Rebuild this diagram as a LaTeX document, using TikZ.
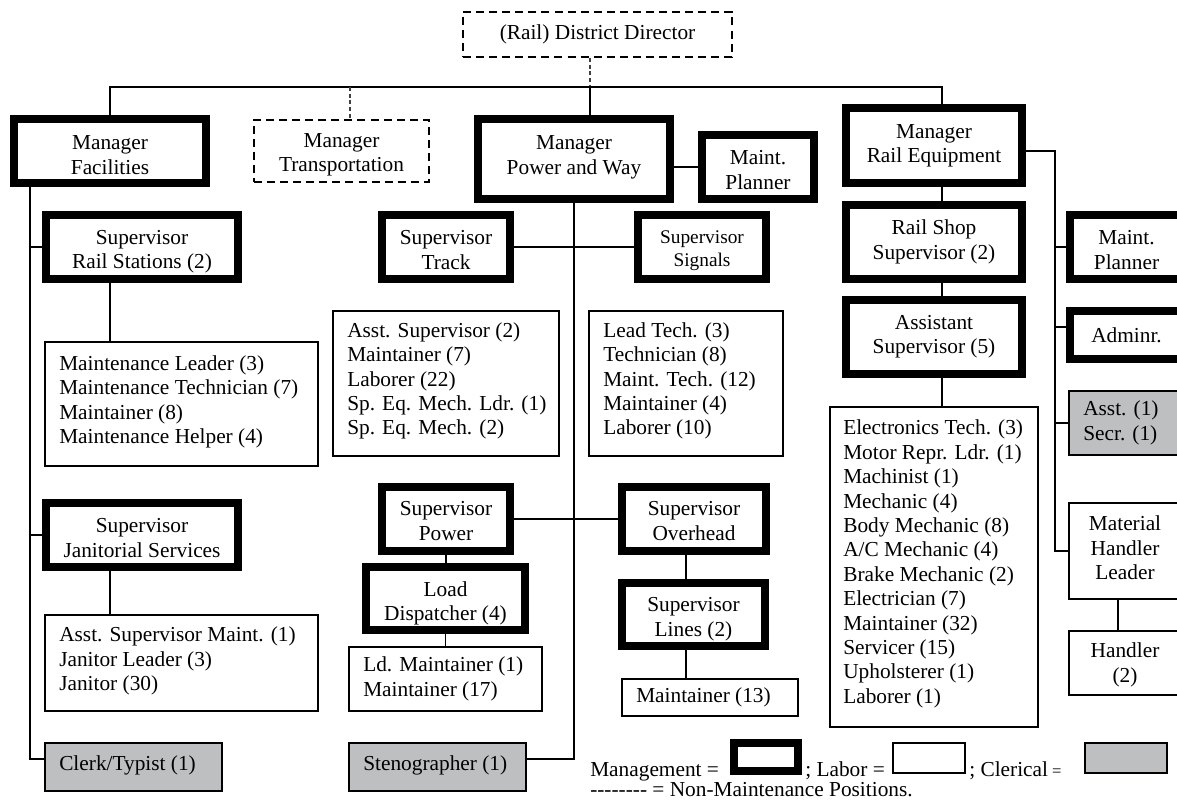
\documentclass[tikz,border=0pt]{standalone}
\usepackage{fontspec}
\setmainfont{Liberation Serif}
\definecolor{clerkgray}{RGB}{190,191,193}
\newcommand\fsn{\fontsize{16}{18.3}\selectfont}
\newcommand\fss{\fontsize{14.5}{17}\selectfont}
\begin{document}
\begin{tikzpicture}[x=0.75pt,y=-0.75pt,
  rect/.style n args={4}{minimum width={(#3-#1)*0.75pt}, minimum height={(#4-#2)*0.75pt},
      at={({(#1+#3)/2},{(#2+#4)/2})}},
  mgmt/.style={draw, line width=6pt, fill=white, inner sep=0pt, align=center, font=\fsn},
  labor/.style={draw, line width=1.2pt, fill=white, inner sep=0pt, align=center, font=\fsn},
  cler/.style={draw, line width=1.2pt, fill=clerkgray, inner sep=0pt, align=center, font=\fsn},
  nonm/.style={draw, line width=1.4pt, dash pattern=on 6pt off 3.8pt, fill=white, inner sep=0pt, align=center, font=\fsn},
  lbl/.style={inner sep=0pt, align=center, font=\fsn},
  txt/.style={inner sep=0pt, align=left, anchor=west, font=\fsn},
  legtxt/.style={inner sep=0pt, anchor=base west, font=\fsn},
  con/.style={line width=1.2pt},
  dcon/.style={line width=0.9pt, draw=black!75, dash pattern=on 3pt off 2pt},
]
\useasboundingbox (0,0) rectangle (1177,802);
\clip (0,0) rectangle (1177,802);

% ---- top level
\node[nonm, rect={463}{12}{732}{57}] (dd) {(Rail) District Director};
\node[mgmt, rect={14}{119}{206}{183}] (mf) {};
\node[lbl] (mfT) at ([yshift=-3pt]mf.center) {Manager\\Facilities};
\node[nonm, rect={254}{120}{429}{182}] (mt) {};
\node[lbl] (mtT) at ([yshift=-3pt]mt.center) {Manager\\Transportation};
\node[mgmt, rect={478}{119}{670}{199}] (mpw) {};
\node[lbl] (mpwT) at ([yshift=1.2pt]mpw.center) {Manager\\Power and Way};
\node[mgmt, rect={702}{135}{814}{199}] (mp1) {};
\node[lbl] (mp1T) at ([yshift=-2.25pt]mp1.center) {Maint.\\Planner};
\node[mgmt, rect={846}{108}{1022}{183}] (mre) {};
\node[lbl] (mreT) at (mre.center) {Manager\\Rail Equipment};

% ---- facilities branch
\node[mgmt, rect={46}{215}{238}{279}] (srs) {};
\node[lbl] (srsT) at ([yshift=-3.6pt]srs.center) {Supervisor\\Rail Stations (2)};
\node[labor, rect={45}{342}{318}{466}] (l1) {};
\node[txt] (l1t) at (59,402) {Maintenance Leader (3)\\Maintenance Technician (7)\\Maintainer (8)\\Maintenance Helper (4)};
\node[mgmt, rect={46}{503}{238}{567}] (sjs) {};
\node[lbl] (sjsT) at ([yshift=-2.25pt]sjs.center) {Supervisor\\Janitorial Services};
\node[labor, rect={45}{615}{318}{711}] (l4) {};
\node[txt] (l4t) at (59,661) {Asst. Supervisor Maint. (1)\\Janitor Leader (3)\\Janitor (30)};
\node[cler, rect={45}{743}{222}{791}] (c1) {};
\node[txt] (c1t) at (59,765) {Clerk/Typist (1)};

% ---- power and way branch
\node[mgmt, rect={382}{215}{510}{279}] (st) {};
\node[lbl] (stT) at ([yshift=-2.25pt]st.center) {Supervisor\\Track};
\node[mgmt, rect={638}{215}{766}{279}] (ss) {};
\node[lbl, font=\fss] (ssT) at ([yshift=-3pt]ss.center) {Supervisor\\Signals};
\node[labor, rect={333}{311}{559}{456}] (l2) {};
\node[txt] (l2t) at (347,381) {Asst. Supervisor (2)\\Maintainer (7)\\Laborer (22)\\Sp. Eq. Mech. Ldr. (1)\\Sp. Eq. Mech. (2)};
\node[labor, rect={589}{311}{783}{456}] (l3) {};
\node[txt] (l3t) at (603,381) {Lead Tech. (3)\\Technician (8)\\Maint. Tech. (12)\\Maintainer (4)\\Laborer (10)};
\node[mgmt, rect={382}{487}{510}{551}] (sp) {};
\node[lbl] (spT) at ([yshift=-1.5pt]sp.center) {Supervisor\\Power};
\node[mgmt, rect={622}{487}{766}{551}] (so) {};
\node[lbl] (soT) at ([yshift=-1.5pt]so.center) {Supervisor\\Overhead};
\node[mgmt, rect={366}{567}{525}{630}] (ld) {};
\node[lbl] (ldT) at ([yshift=-3.6pt]ld.center) {Load\\Dispatcher (4)};
\node[labor, rect={349}{647}{542}{711}] (l5) {};
\node[txt] (l5t) at (363,679) {Ld. Maintainer (1)\\Maintainer (17)};
\node[mgmt, rect={622}{583}{765}{646}] (sl) {};
\node[lbl] (slT) at ([yshift=-3.6pt]sl.center) {Supervisor\\Lines (2)};
\node[labor, rect={622}{679}{798}{716}] (l6) {};
\node[txt] (l6t) at (636,697) {Maintainer (13)};
\node[cler, rect={349}{743}{526}{791}] (c2) {};
\node[txt] (c2t) at (363,765) {Stenographer (1)};

% ---- rail equipment branch
\node[mgmt, rect={846}{205}{1022}{279}] (rss) {};
\node[lbl] (rssT) at (rss.center) {Rail Shop\\Supervisor (2)};
\node[mgmt, rect={846}{300}{1022}{374}] (asup) {};
\node[lbl] (asupT) at (asup.center) {Assistant\\Supervisor (5)};
\node[labor, rect={830}{407}{1038}{727}] (l7) {};
\node[txt] (l7t) at (843,564) {Electronics Tech. (3)\\Motor Repr. Ldr. (1)\\Machinist (1)\\Mechanic (4)\\Body Mechanic (8)\\A/C Mechanic (4)\\Brake Mechanic (2)\\Electrician (7)\\Maintainer (32)\\Servicer (15)\\Upholsterer (1)\\Laborer (1)};
\node[mgmt, rect={1070}{215}{1183}{279}] (mp2) {};
\node[lbl] (mp2T) at ([yshift=-2.25pt]mp2.center) {Maint.\\Planner};
\node[mgmt, rect={1070}{311}{1183}{359}] (adm) {Adminr.};
\node[cler, rect={1069}{391}{1183}{455}] (c3) {};
\node[txt] (c3t) at (1083,423) {Asst. (1)\\Secr. (1)};
\node[labor, rect={1069}{503}{1181}{599}] (l8) {};
\node[lbl] (l8T) at ([yshift=2.4pt]l8.center) {Material\\Handler\\Leader};
\node[labor, rect={1069}{631}{1181}{695}] (l9) {};
\node[lbl] (l9T) at ([yshift=-1.5pt]l9.center) {Handler\\(2)};

% ---- legend
\node[legtxt] (lg1) at (590,776) {Management =};
\node[mgmt, rect={734}{743}{798}{771}] (lgm) {};
\node[legtxt] (lg2) at (805,776) {; Labor =};
\node[legtxt] (lg3) at (969,776) {; Clerical\kern3pt{\fontsize{12.5}{13}\selectfont =}};
\node[labor, rect={893}{743}{965}{773}] (lgl) {};
\node[cler, rect={1085}{743}{1167}{773}] (lgc) {};
\node[legtxt] (lg4) at (590,796) {-\kern0pt-\kern0pt-\kern0pt-\kern0pt-\kern0pt-\kern0pt-\kern0pt- = Non-Maintenance Positions.};

% ---- connectors
\coordinate (busc) at (590,87);
\coordinate (xMF) at (110,87);
\coordinate (xMT) at (350,87);
\coordinate (xRE) at (942,87);
\coordinate (xL) at (30,0);
\coordinate (yB) at (0,759);
\coordinate (xO) at (686,0);
\coordinate (yRE) at (0,151);
\coordinate (xRR) at (1055,0);
\coordinate (yAd) at (0,327);
\coordinate (xH) at (1118,0);

\draw[dcon] (dd.south -| busc) -- (busc);
\draw[con] (busc) -- (mpw.north -| busc);
\draw[con] (mf.north) -- (xMF) -- (xRE) -- (mre.north -| xRE);
\draw[dcon] (xMT) -- (mt.north -| xMT);

\draw[con] (mf.south -| xL) -- (xL |- yB) -- (c1.west |- yB);
\draw[con] (srs.west -| xL) -- (srs.west);
\draw[con] (sjs.west -| xL) -- (sjs.west);
\draw[con] (srs.south -| xMF) -- (l1.north -| xMF);
\draw[con] (sjs.south -| xMF) -- (l4.north -| xMF);

\draw[con] (mpw.east |- mp1.west) -- (mp1.west);
\draw[con] (mpw.south) -- (mpw.south |- yB) -- (c2.east |- yB);
\draw[con] (st.east) -- (ss.west);
\draw[con] (sp.east) -- (so.west);
\draw[con] (sp.south) -- (sp.south |- ld.north);
\draw[con] (ld.south) -- (ld.south |- l5.north);
\draw[con] (so.south -| xO) -- (sl.north -| xO);
\draw[con] (sl.south -| xO) -- (l6.north -| xO);

\draw[con] (mre.south -| xRE) -- (rss.north -| xRE);
\draw[con] (rss.south -| xRE) -- (asup.north -| xRE);
\draw[con] (asup.south -| xRE) -- (l7.north -| xRE);
\draw[con] (mre.east |- yRE) -- (xRR |- yRE) -- (xRR |- l8.west) -- (l8.west);
\draw[con] (xRR |- mp2.west) -- (mp2.west);
\draw[con] (xRR |- yAd) -- (adm.west |- yAd);
\draw[con] (xRR |- c3.west) -- (c3.west);
\draw[con] (l8.south -| xH) -- (l9.north -| xH);
\end{tikzpicture}
\end{document}
